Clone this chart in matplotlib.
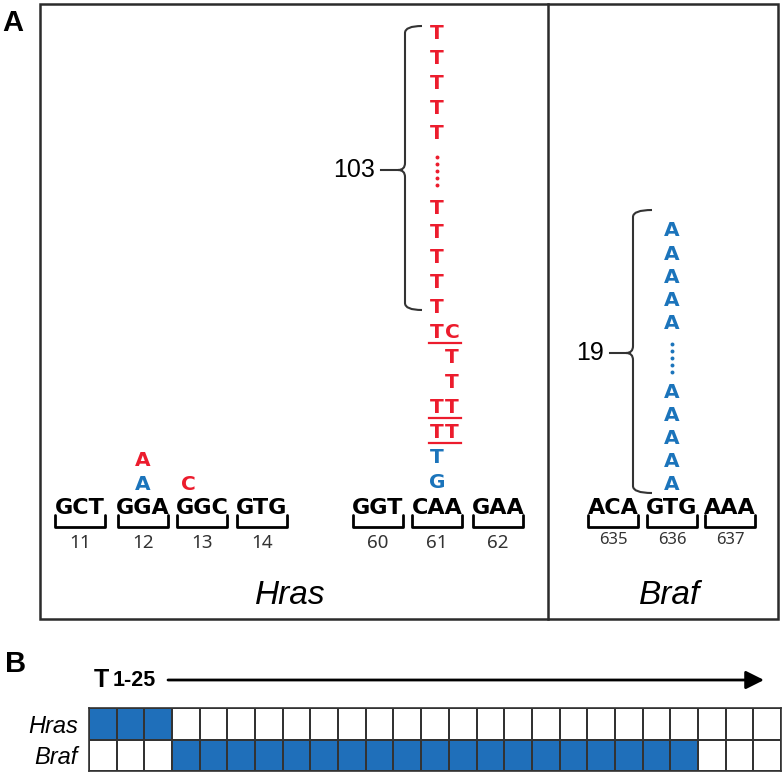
import numpy as np
import matplotlib
matplotlib.use("Agg")
import matplotlib.pyplot as plt
from matplotlib.path import Path
from matplotlib.patches import PathPatch, Rectangle
from matplotlib.colors import ListedColormap

# ---- data ----
hras_codons = ['GCT', 'GGA', 'GGC', 'GTG', 'GGT', 'CAA', 'GAA']
hras_codon_no = [11, 12, 13, 14, 60, 61, 62]
braf_codons = ['ACA', 'GTG', 'AAA']
braf_codon_no = [635, 636, 637]

# point mutations above codons 12/13
mut_codon = [12, 12, 13]
mut_base = ['A', 'A', 'C']
mut_level = [0, 1, 0]
mut_color = ['blue', 'red', 'red']

# codon 61 stack (bottom to top)
c61_bases = ['G', 'T', 'TT', 'TT', 'T', 'T', 'TC']
c61_color = ['blue', 'blue', 'red', 'red', 'red', 'red', 'red']
c61_under = [False, False, True, True, False, False, True]
c61_col = [0, 0, 0, 0, 1, 1, 0]
polyT_len = 103
polyA_len = 19

# panel B: 25 tumours, 1 = mutation present
tumours = [f'T{i}' for i in range(1, 26)]
hras_mut = [1, 1, 1] + [0] * 22
braf_mut = [0, 0, 0] + [1] * 19 + [0] * 3

# ---- style / layout ----
RED = '#ec1c2d'
BLUE = '#1b74bb'
GRID_BLUE = '#1f6fba'
DARK = '#2b2b2b'
colors = {'red': RED, 'blue': BLUE}

hras_x = [80, 143, 202, 262, 378, 437, 498]
braf_x = [613, 672, 730]
codon_y = 508
num_y = 543

fig = plt.figure(figsize=(7.83, 7.75), dpi=100)
ax = fig.add_axes([0, 0, 1, 1])
ax.set_xlim(0, 783)
ax.set_ylim(775, 0)
ax.axis('off')

# panel letters
ax.text(13, 23, 'A', fontsize=21, fontweight='bold', family='Liberation Sans',
        ha='center', va='center')
ax.text(16, 664, 'B', fontsize=21, fontweight='bold', family='Liberation Sans',
        ha='center', va='center')

# box of panel A
ax.add_patch(Rectangle((40, 4), 738, 615, fill=False, lw=1.8, ec=DARK))
ax.plot([548, 548], [4, 619], color=DARK, lw=1.8)


def codon(cx, txt, no, nsize, ny):
    ax.text(cx, codon_y, txt, fontsize=16, fontweight='bold', family='DejaVu Sans',
            ha='center', va='center', color='black')
    ax.plot([cx - 25, cx - 25, cx + 25, cx + 25], [515, 527, 527, 515],
            color='black', lw=2, solid_joinstyle='round', solid_capstyle='round')
    ax.text(cx, ny, str(no), fontsize=nsize, family='Noto Sans',
            ha='center', va='center', color='#333333')


for cx, txt, no in zip(hras_x, hras_codons, hras_codon_no):
    codon(cx, txt, no, 13.5, num_y)
for cx, txt, no in zip(braf_x, braf_codons, braf_codon_no):
    codon(cx, txt, no, 12, 540)

# point mutations
mut_dx = {12: 0, 13: -14}
for c, b, lv, col in zip(mut_codon, mut_base, mut_level, mut_color):
    cx = hras_x[hras_codon_no.index(c)] + mut_dx[c]
    ax.text(cx, 484 - lv * 24, b, fontsize=14.5, fontweight='bold',
            family='DejaVu Sans', ha='center', va='center', color=colors[col])


def letter(x, y, s, col):
    ax.text(x, y, s, fontsize=14.5, fontweight='bold', family='DejaVu Sans',
            ha='center', va='center', color=col)


# codon 61 stack
x61 = hras_x[hras_codon_no.index(61)]
step = 24.9
base_y = 482
for i, (b, col, ul, cc) in enumerate(zip(c61_bases, c61_color, c61_under, c61_col)):
    y = base_y - i * step
    for j, ch in enumerate(b):
        letter(x61 + (cc + j) * 15, y, ch, colors[col])
    if ul:
        ax.plot([x61 - 8, x61 + 24], [y + 10.5, y + 10.5], color=RED, lw=1.6)


def run(x, y0, stp, ch, col):
    # 5 letters, a dotted gap, 5 letters
    for k in range(5):
        letter(x, y0 - k * stp, ch, col)
    yc = y0 - 5.5 * stp
    dy = np.linspace(yc + 14, yc - 14, 5)
    ax.scatter(np.full(5, x), dy, s=8, color=col, zorder=3, linewidths=0)
    for k in range(7, 12):
        letter(x, y0 - k * stp, ch, col)


run(x61, base_y - 7 * step, step, 'T', RED)
run(braf_x[1], 485, 23.1, 'A', BLUE)


def brace(x, y0, y1, ym, hook, lead_x0, label):
    r, d = 7, 7
    verts = [(x + hook, y0), (x, y0), (x, y0 + r),
             (x, ym - r), (x, ym), (x - d, ym),
             (x, ym), (x, ym + r),
             (x, y1 - r), (x, y1), (x + hook, y1)]
    codes = [Path.MOVETO, Path.CURVE3, Path.CURVE3,
             Path.LINETO, Path.CURVE3, Path.CURVE3,
             Path.CURVE3, Path.CURVE3,
             Path.LINETO, Path.CURVE3, Path.CURVE3]
    ax.add_patch(PathPatch(Path(verts, codes), fill=False, lw=1.5, ec='#333333'))
    ax.plot([lead_x0, x - d], [ym, ym], color='#333333', lw=1.5)
    ax.text(lead_x0 - 6, ym, label, fontsize=18, family='Liberation Sans',
            ha='right', va='center', color='black')


brace(405, 26, 310, 170, 17, 381, str(polyT_len))
brace(633, 210, 493, 353, 19, 610, str(polyA_len))

ax.text(290, 596, 'Hras', fontsize=24, style='italic', family='Liberation Sans',
        ha='center', va='center')
ax.text(670, 596, 'Braf', fontsize=24, style='italic', family='Liberation Sans',
        ha='center', va='center')

# panel B header
ax.text(94, 680, 'T', fontsize=18, fontweight='bold', family='Liberation Sans',
        ha='left', va='center')
ax.text(113, 681, '1-25', fontsize=15.5, fontweight='bold', family='Liberation Sans',
        ha='left', va='center')
ax.annotate('', xy=(764, 680), xytext=(168, 680),
            arrowprops=dict(arrowstyle='-|>,head_length=1.1,head_width=0.55',
                            lw=2, color='black', shrinkA=0, shrinkB=0))

# panel B grid
axb = fig.add_axes([89 / 783, (775 - 771) / 775, (781 - 89) / 783, (771 - 708) / 775])
grid = np.array([hras_mut, braf_mut])
axb.pcolormesh(grid, cmap=ListedColormap(['white', GRID_BLUE]), vmin=0, vmax=1,
               edgecolors='#333333', linewidth=1.1)
axb.set_xlim(0, len(tumours))
axb.set_ylim(2, 0)
axb.set_xticks([])
axb.set_yticks([0.5, 1.5])
axb.set_yticklabels(['Hras', 'Braf'], fontsize=17, style='italic',
                    family='Liberation Sans')
axb.tick_params(axis='y', length=0, pad=8)
for sp in axb.spines.values():
    sp.set_linewidth(1.2)
    sp.set_color('#333333')

fig.savefig('out.png', dpi=100)
